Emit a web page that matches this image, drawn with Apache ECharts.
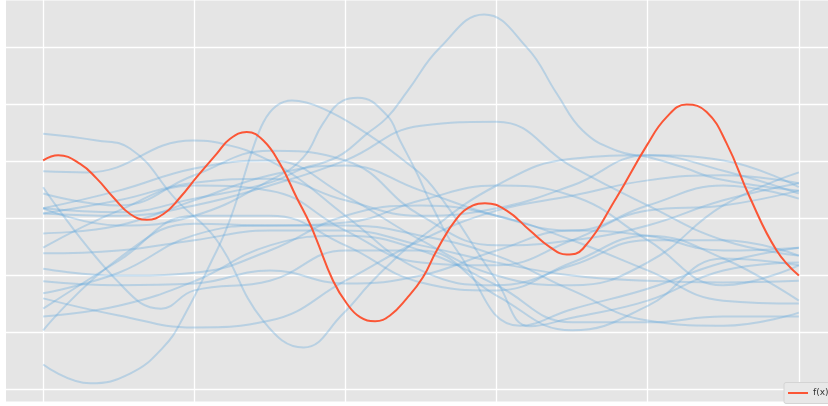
<!DOCTYPE html>
<html>
<head>
<meta charset="utf-8">
<script src="https://cdn.jsdelivr.net/npm/echarts@6/dist/echarts.min.js"></script>
<style>
  html, body { margin: 0; padding: 0; background: #ffffff; overflow: hidden; width: 828px; height: 406px; }
  #wrap { position: relative; width: 828px; height: 406px; overflow: hidden; }
  /* the canvas is larger than the view so that whole-number ticks fall outside it */
  #chart { position: absolute; left: -108px; top: -10.5px; width: 1058.4px; height: 456px; }
</style>
</head>
<body>
<div id="wrap"><div id="chart"></div></div>
<script>
// Common input grid for the GP sample paths
const sampleX = [0, 0.5, 1, 1.5, 2, 2.5, 3, 3.5, 4, 4.5, 5];

// GP prior sample paths (some are read at extra x positions)
const sample01X = [0, 0.355, 0.575, 0.884, 1.149, 1.455, 1.723, 1.984, 2.163, 2.339, 2.472, 3, 3.5, 4, 4.5, 5];
const sample01 = [1.48, 1.36, 1.22, 0.31, -0.39, -1.80, -2.27, -1.68, -1.15, -0.69, -0.39, 0.57, 1.04, 1.10, 0.83, 0.43];
const sample02X = [0, 0.289, 0.992, 1.237, 1.455, 1.68, 2, 2.5, 3, 3.5, 4, 4.5, 5];
const sample02 = [0.82, 0.80, 1.36, 1.27, 1.06, 0.71, 0.04, -0.92, -1.18, -0.83, -0.39, -0.39, -0.66];
const sample03X = [0, 0.311, 0.575, 0.794, 0.926, 1.149, 1.647, 1.852, 2.143, 2.361, 2.579, 3, 3.221, 3.5, 4, 4.5, 5];
const sample03 = [-2.57, -2.90, -2.73, -2.27, -1.75, -0.57, 2.06, 1.92, 1.48, 1.06, 0.54, -1.10, -1.90, -1.75, -1.45, -0.92, -0.78];
const sample04X = [0, 0.5, 1, 1.5, 1.72, 1.852, 1.984, 2.083, 2.275, 2.361, 2.474, 2.579, 2.738, 3.155, 3.5, 4, 4.5, 5];
const sample04 = [0.17, -0.13, 0.04, 0.66, 1.06, 1.66, 2.06, 2.11, 1.80, 1.36, 0.78, 0.18, -0.57, -1.89, -1.60, -1.24, -0.78, -0.52];
const sample05X = [0, 0.5, 1, 1.5, 1.72, 1.852, 1.984, 2.143, 2.275, 2.414, 2.626, 2.917, 3.201, 3.399, 3.571, 3.796, 4.014, 4.233, 4.458, 5];
const sample05 = [0.17, 0.10, 0.34, 0.62, 0.87, 0.97, 1.13, 1.48, 1.76, 2.24, 2.99, 3.57, 2.99, 2.18, 1.53, 1.18, 1.06, 0.89, 0.69, 0.48];
const sample06 = [0.08, 0.04, 0.22, 0.57, 1.01, 1.62, 1.69, 0.90, 0.22, -0.39, -0.66];
const sample07X = [0, 0.5, 0.78, 1, 1.5, 2, 2.5, 3, 3.5, 4, 4.5, 5];
const sample07 = [0.54, -1.13, -1.59, -1.27, -1.10, -0.57, -0.57, -1.36, -1.97, -1.54, -0.71, -0.83];
const sample08 = [0.43, 0.22, 0.75, 1.18, 1.01, 0.04, -0.48, -0.39, -0.13, 0.31, 0.61];
const sample09 = [0.17, 0.48, 0.87, 1.01, 0.39, -0.39, -1.01, -1.18, -0.78, 0.22, 0.80];
const sample10 = [0.08, 0.31, 0.62, 0.69, 0.31, 0.04, 0.17, 0.57, 1.10, 1.01, 0.54];
const sample11 = [-0.27, -0.13, 0.31, 0.75, 0.92, 0.48, 0.04, -0.22, 0.22, 0.57, 0.34];
const sample12 = [-0.52, 0.13, 0.57, 0.48, -0.22, -0.78, -0.83, -0.39, 0.13, 0.22, 0.48];
const sample13 = [-0.62, -0.57, -0.39, -0.22, -0.22, -0.48, -0.78, -1.01, -1.10, -1.13, -1.10];
const sample14 = [-0.89, -1.01, -0.96, -0.57, 0.04, 0.22, 0.04, -0.39, -0.92, -1.45, -1.50];
const sample15 = [-1.11, -1.18, -1.15, -0.92, -1.15, -1.01, -0.57, -0.22, -0.31, -0.57, -0.52];
const sample16 = [-1.32, -0.96, -0.30, -0.13, -0.13, -0.31, -0.66, -1.27, -1.80, -1.89, -1.66];
const sample17 = [-1.59, -0.75, 0.04, 0.04, -0.48, -1.13, -1.27, -0.78, -0.31, -0.71, -1.45];
const sample18 = [-1.73, -1.54, -1.11, -0.48, -0.31, -0.57, -1.18, -1.83, -1.83, -1.73, -1.73];
const sample19 = [-1.97, -0.71, -0.10, -0.13, -0.08, 0.31, 0.57, 0.39, -0.39, -1.18, -0.83];
const sample20 = [-1.41, -1.71, -1.92, -1.80, -1.10, -0.39, 0.13, 0.39, 0.66, 0.75, 0.61];

const samplePaths = [
  [sample01X, sample01], [sample02X, sample02], [sample03X, sample03], [sample04X, sample04],
  [sample05X, sample05], [sampleX, sample06], [sample07X, sample07], [sampleX, sample08],
  [sampleX, sample09], [sampleX, sample10], [sampleX, sample11], [sampleX, sample12],
  [sampleX, sample13], [sampleX, sample14], [sampleX, sample15], [sampleX, sample16],
  [sampleX, sample17], [sampleX, sample18], [sampleX, sample19], [sampleX, sample20]
];

// True function f(x)
const fX = [0, 0.10, 0.245, 0.355, 0.465, 0.575, 0.686, 0.796, 0.906, 1.017, 1.149, 1.237,
  1.347, 1.457, 1.567, 1.677, 1.765, 1.81, 1.918, 2.009, 2.097, 2.196, 2.295, 2.406, 2.513,
  2.604, 2.736, 2.844, 2.923, 3.067, 3.221, 3.353, 3.464, 3.571, 3.794, 3.993, 4.125, 4.257,
  4.39, 4.522, 4.676, 4.853, 5.0];
const fY = [1.01, 1.10, 0.95, 0.69, 0.36, 0.07, -0.03, 0.07, 0.36, 0.72, 1.13, 1.39,
  1.51, 1.36, 0.95, 0.36, -0.10, -0.39, -1.10, -1.50, -1.74, -1.81, -1.71, -1.41, -1.04,
  -0.57, -0.01, 0.22, 0.26, 0.13, -0.22, -0.51, -0.64, -0.54, 0.36, 1.27, 1.77, 1.99,
  1.86, 1.31, 0.36, -0.57, -1.01];

const chart = echarts.init(document.getElementById('chart'), null, { renderer: 'canvas' });

// offset of the visible window inside the chart canvas
const offX = 108, offY = 10.5;

const series = samplePaths.map(function (p, i) {
  const xs = p[0], ys = p[1];
  return {
    name: 'sample ' + (i + 1),
    type: 'line',
    data: xs.map(function (x, j) { return [x, ys[j]]; }),
    smooth: 0.45,
    symbol: 'none',
    lineStyle: { color: 'rgba(100,170,220,0.35)', width: 2 },
    silent: true,
    z: 2
  };
});

series.push({
  name: 'f(x)',
  type: 'line',
  data: fX.map(function (x, j) { return [x, fY[j]]; }),
  smooth: 0.45,
  symbol: 'none',
  lineStyle: { color: '#fb5636', width: 2 },
  itemStyle: { color: '#fb5636' },
  z: 3
});

chart.setOption({
  animation: false,
  backgroundColor: '#ffffff',
  graphic: [{
    type: 'rect',
    z: -10,
    shape: { x: offX + 6, y: offY, width: 830, height: 401 },
    style: { fill: '#e5e5e5' }
  }],
  grid: { left: 0, right: 0, top: 0, bottom: 0, containLabel: false },
  xAxis: {
    type: 'value', min: -1, max: 6, interval: 1,
    axisLine: { show: false }, axisTick: { show: false }, axisLabel: { show: false },
    splitLine: { show: true, lineStyle: { color: '#ffffff', width: 1.3 } }
  },
  yAxis: {
    type: 'value', min: -4, max: 4, interval: 1,
    axisLine: { show: false }, axisTick: { show: false }, axisLabel: { show: false },
    splitLine: { show: true, lineStyle: { color: '#ffffff', width: 1.3 } }
  },
  legend: {
    data: [{ name: 'f(x)', icon: 'rect' }],
    left: offX + 784, top: offY + 382,
    orient: 'vertical',
    itemWidth: 20, itemHeight: 2, itemGap: 4,
    padding: [6, 5, 6, 4],
    backgroundColor: '#e8e8e8',
    borderColor: '#d4d4d4', borderWidth: 1, borderRadius: 2,
    textStyle: { fontSize: 9, color: '#333333', fontFamily: 'DejaVu Sans' }
  },
  series: series
});
</script>
</body>
</html>
